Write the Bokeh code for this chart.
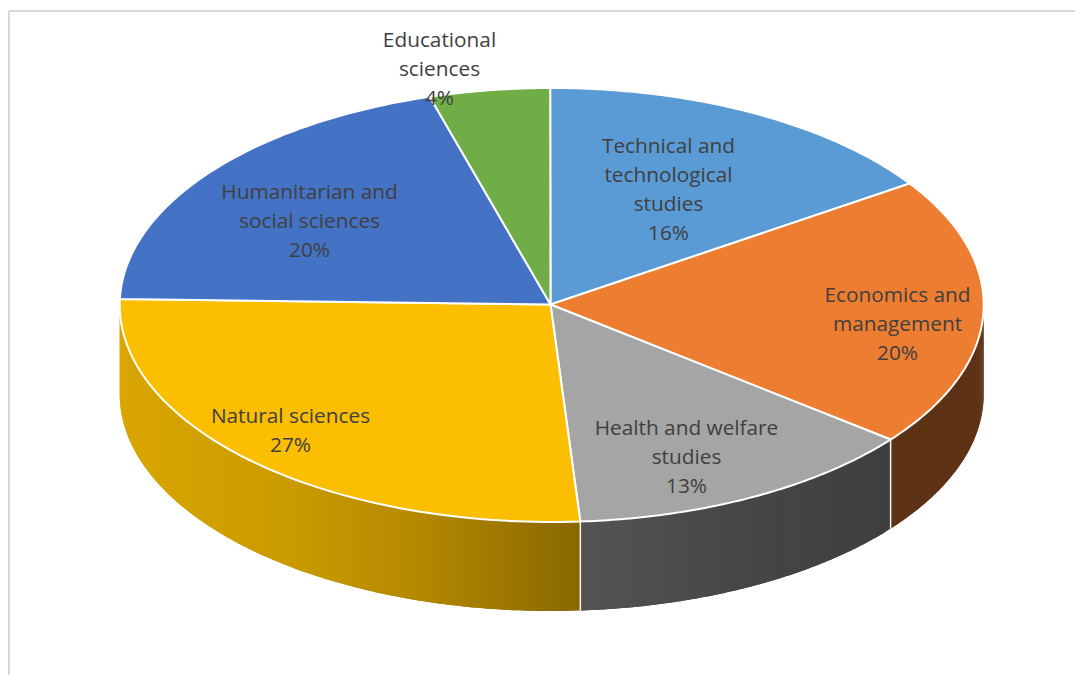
import numpy as np
from bokeh.plotting import figure
from bokeh.embed import file_html
from bokeh.resources import INLINE
from bokeh.core.properties import value

categories = ["Technical and technological studies", "Economics and management",
              "Health and welfare studies", "Natural sciences",
              "Humanitarian and social sciences", "Educational sciences"]
shares = [15.6, 20.1, 13.3, 26.5, 20.0, 4.5]
shown_percent = [16, 20, 13, 27, 20, 4]
top_colors = ["#5B9BD5", "#ED7D31", "#A5A5A5", "#FBBE00", "#4472C4", "#70AD47"]

label_lines = [["Technical and", "technological", "studies"],
               ["Economics and", "management"],
               ["Health and welfare", "studies"],
               ["Natural sciences"],
               ["Humanitarian and", "social sciences"],
               ["Educational", "sciences"]]
label_x = [668, 897, 686, 290, 309, 439]
label_y = [144, 293, 426, 414, 190, 38]
LINE_H = 29.3

CX, CY, RX, RY, DEPTH = 551.2, 304.5, 432.0, 217.0, 89.0
APEX_X, APEX_Y = 550.0, 304.0
START_DEG = -0.2
W, H = 1075, 675

yellow_x = [120, 300, 420, 580]
yellow_rgb = [(217, 166, 0), (201, 154, 0), (181, 137, 0), (139, 105, 0)]
grey_x = [580, 750, 890]
grey_rgb = [(84, 84, 84), (70, 70, 70), (63, 63, 63)]
brown_x = [580, 983]
brown_rgb = [(94, 50, 20), (94, 50, 20)]

p = figure(width=W, height=H, x_range=(0, W), y_range=(H, 0),
           output_backend="svg", toolbar_location=None, min_border=0)
p.axis.visible = False
p.grid.visible = False
p.outline_line_color = None
p.background_fill_color = "white"
p.border_fill_color = "white"

p.line([8.5, 8.5, W], [H, 10.5, 10.5], line_color="#D9D9D9", line_width=2)

edges = np.radians(np.concatenate([[0], np.cumsum(shares)]) * 3.6 + START_DEG)


def ex(t):
    return CX + RX * np.sin(t)


def ey(t):
    return CY - RY * np.cos(t)


def shade(x, xs, rgbs):
    return "#%02x%02x%02x" % tuple(int(round(np.interp(x, xs, [c[i] for c in rgbs]))) for i in range(3))


side_styles = {1: (brown_x, brown_rgb), 2: (grey_x, grey_rgb), 3: (yellow_x, yellow_rgb)}
for i, (xs, rgbs) in side_styles.items():
    a0 = max(edges[i], np.pi / 2)
    a1 = min(edges[i + 1], 3 * np.pi / 2)
    ts = np.linspace(a0, a1, 70)
    sxs, sys, scs = [], [], []
    # every strip runs on under its neighbour, so that no seam shows
    for k in range(len(ts) - 1):
        t0 = ts[k]
        t1 = ts[min(k + 2, len(ts) - 1)]
        tm = np.linspace(t0, t1, 5)
        sxs.append(list(ex(tm)) + list(ex(tm))[::-1])
        sys.append(list(ey(tm)) + list(ey(tm) + DEPTH)[::-1])
        scs.append(shade(ex(ts[k]), xs, rgbs))
    p.patches(sxs, sys, fill_color=scs, line_color=None)

for i in range(len(shares)):
    t = edges[i + 1]
    if np.pi / 2 < t < 3 * np.pi / 2:
        p.line([ex(t), ex(t)], [ey(t), ey(t) + DEPTH], line_color="#F2F2F2", line_width=1.5)

for i in range(len(shares)):
    ts = np.linspace(edges[i], edges[i + 1], 80)
    xs = np.concatenate([[APEX_X], ex(ts)])
    ys = np.concatenate([[APEX_Y], ey(ts)])
    p.patch(xs, ys, fill_color=top_colors[i], line_color="white", line_width=2, line_join="round")

for i, lines in enumerate(label_lines):
    rows = lines + [f"{shown_percent[i]}%"]
    p.text([label_x[i]] * len(rows), [label_y[i] + k * LINE_H for k in range(len(rows))], text=rows,
           text_font=value("Open Sans"), text_font_size="20.8px", text_color="#404040",
           text_align="center", text_baseline="middle")

open("out.html", "w").write(file_html(p, INLINE))
